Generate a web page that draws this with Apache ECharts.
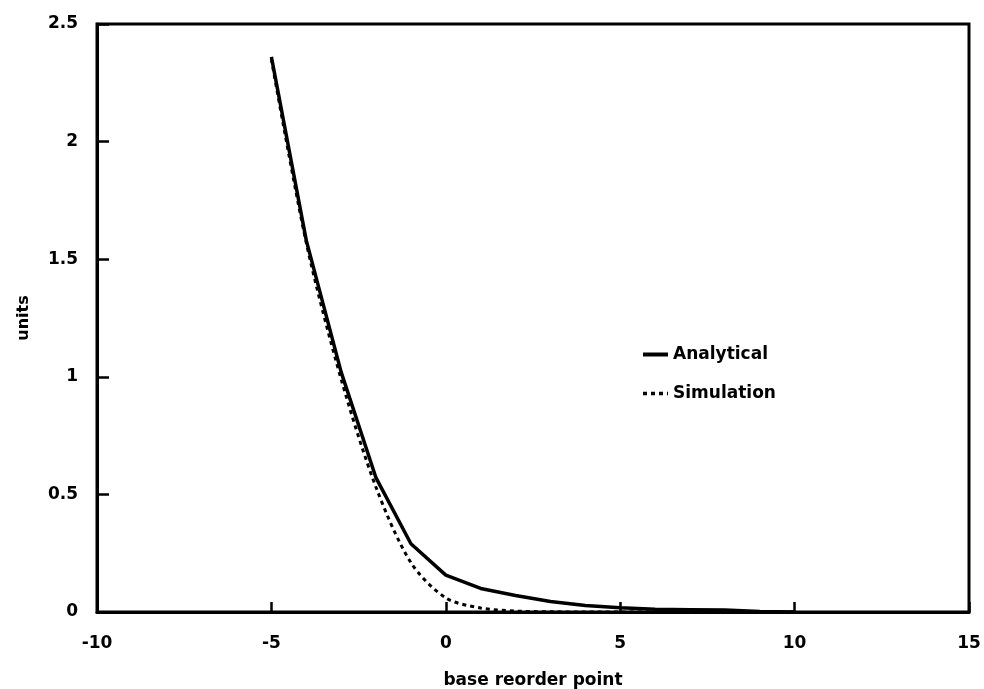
<!DOCTYPE html>
<html>
<head>
<meta charset="utf-8">
<script src="https://cdn.jsdelivr.net/npm/echarts@6/dist/echarts.min.js"></script>
<style>
html,body{margin:0;padding:0;background:#fff;}
#chart{width:984px;height:689px;}
</style>
</head>
<body>
<div id="chart"></div>
<script>
// Data
const xValues = [-5, -4, -3, -2, -1, 0, 1, 2, 3, 4, 5, 6, 7, 8, 9, 10];
const analytical = [2.36, 1.58, 1.02, 0.57, 0.29, 0.157, 0.10, 0.07, 0.045, 0.028, 0.018, 0.012, 0.010, 0.008, 0.002, 0.0];
const simulation = [2.35, 1.57, 0.99, 0.53, 0.21, 0.06, 0.017, 0.004, 0.001, 0, 0, 0, 0, 0, 0, 0];
const seriesNames = ['Analytical', 'Simulation'];
const xAxisRange = [-10, 15, 5];
const yAxisRange = [0, 2.5, 0.5];
const xTitle = 'base reorder point';
const yTitle = 'units';

const FONT = 'DejaVu Sans';
const pairs = (ys) => xValues.map((x, i) => [x, ys[i]]);

const chart = echarts.init(document.getElementById('chart'), null, {renderer: 'canvas'});
chart.setOption({
  backgroundColor: '#fff',
  animation: false,
  grid: {left: 97, right: 15, top: 24, bottom: 77, show: true, borderColor: '#000', borderWidth: 3,
         containLabel: false, outerBoundsMode: 'none'},
  legend: {
    orient: 'vertical', left: 636, top: 341,
    itemWidth: 25, itemHeight: 14, itemGap: 22,
    itemStyle: {color: 'rgba(0,0,0,0)', borderColor: 'rgba(0,0,0,0)', borderWidth: 0, opacity: 0},
    textStyle: {fontFamily: FONT, fontWeight: 'bold', fontSize: 17, color: '#000'},
    data: [
      {name: seriesNames[0], lineStyle: {width: 4}},
      {name: seriesNames[1], lineStyle: {width: 3.5}}
    ]
  },
  xAxis: {
    type: 'value', min: xAxisRange[0], max: xAxisRange[1], interval: xAxisRange[2],
    name: xTitle, nameLocation: 'middle', nameGap: 60,
    nameTextStyle: {fontFamily: FONT, fontWeight: 'bold', fontSize: 17, color: '#000'},
    axisLine: {show: true, onZero: false, lineStyle: {color: '#000', width: 3}},
    axisTick: {show: true, inside: true, length: 10, lineStyle: {color: '#000', width: 2.5}},
    axisLabel: {margin: 23, fontFamily: FONT, fontWeight: 'bold', fontSize: 17, color: '#000'},
    splitLine: {show: false}
  },
  yAxis: {
    type: 'value', min: yAxisRange[0], max: yAxisRange[1], interval: yAxisRange[2],
    name: yTitle, nameLocation: 'middle', nameGap: 65, nameRotate: 90,
    nameTextStyle: {fontFamily: FONT, fontWeight: 'bold', fontSize: 16, color: '#000'},
    axisLine: {show: true, onZero: false, lineStyle: {color: '#000', width: 3}},
    axisTick: {show: true, inside: true, length: 12, lineStyle: {color: '#000', width: 2.5}},
    axisLabel: {margin: 19, fontFamily: FONT, fontWeight: 'bold', fontSize: 17, color: '#000'},
    splitLine: {show: false}
  },
  series: [
    {
      name: seriesNames[0], type: 'line', data: pairs(analytical),
      symbol: 'none', lineStyle: {color: '#000', width: 3.5}, itemStyle: {color: '#000'}, z: 3
    },
    {
      name: seriesNames[1], type: 'line', data: pairs(simulation), smooth: 0.3,
      symbol: 'none', lineStyle: {color: '#000', width: 3, type: [4, 4]}, itemStyle: {color: '#000'}, z: 2
    }
  ]
});
</script>
</body>
</html>
